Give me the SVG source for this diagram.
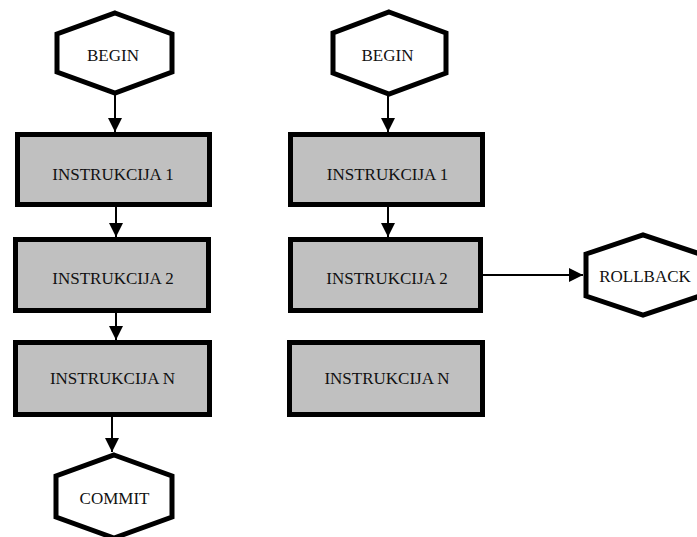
<svg xmlns="http://www.w3.org/2000/svg" width="697" height="537" viewBox="0 0 697 537">
<style>
.hex{fill:#fff;stroke:#000;stroke-width:5;stroke-linejoin:miter}
.box{fill:#c0c0c0;stroke:#000;stroke-width:5}
.lbl{font-family:"Liberation Serif","Times New Roman",serif;font-size:17px;fill:#111;text-anchor:middle}
.edge{stroke:#000;stroke-width:2;fill:none}
</style>
<defs>
<marker id="arr" viewBox="0 0 14 14" refX="14" refY="7" markerWidth="14" markerHeight="14" markerUnits="userSpaceOnUse" orient="auto">
<path d="M0,0 L14,7 L0,14 Z" fill="#000"/>
</marker>
</defs>
<rect width="697" height="537" fill="#fff"/>
<g id="connectors">
<line class="edge" x1="115" y1="95" x2="115" y2="132" marker-end="url(#arr)"/>
<line class="edge" x1="116" y1="207" x2="116" y2="237" marker-end="url(#arr)"/>
<line class="edge" x1="116" y1="313" x2="116" y2="340" marker-end="url(#arr)"/>
<line class="edge" x1="112" y1="417" x2="112" y2="452" marker-end="url(#arr)"/>
<line class="edge" x1="388" y1="96" x2="388" y2="132" marker-end="url(#arr)"/>
<line class="edge" x1="388" y1="207" x2="388" y2="237" marker-end="url(#arr)"/>
<line class="edge" x1="483" y1="275" x2="583" y2="275" marker-end="url(#arr)"/>
</g>
<g id="begin-left">
<polygon class="hex" points="115,13 172,34 172,72 115,93 57,72 57,34"/>
<text class="lbl" x="113" y="60.5">BEGIN</text>
</g>
<g id="ins1-left">
<rect class="box" x="17.5" y="134.5" width="192" height="70"/>
<text class="lbl" x="113" y="180">INSTRUKCIJA 1</text>
</g>
<g id="ins2-left">
<rect class="box" x="15.5" y="239.5" width="193" height="71"/>
<text class="lbl" x="113" y="284">INSTRUKCIJA 2</text>
</g>
<g id="insn-left">
<rect class="box" x="15.5" y="342.5" width="194" height="72"/>
<text class="lbl" x="112.5" y="384">INSTRUKCIJA N</text>
</g>
<g id="commit">
<polygon class="hex" points="114,455 172,476 172,517 114,538 56,517 56,476"/>
<text class="lbl" x="114.5" y="504">COMMIT</text>
</g>
<g id="begin-right">
<polygon class="hex" points="389,12 446,33 446,73 389,94 333,73 333,33"/>
<text class="lbl" x="387.5" y="60.5">BEGIN</text>
</g>
<g id="ins1-right">
<rect class="box" x="290.5" y="134.5" width="192" height="70"/>
<text class="lbl" x="387.5" y="180">INSTRUKCIJA 1</text>
</g>
<g id="ins2-right">
<rect class="box" x="290.5" y="239.5" width="190" height="71"/>
<text class="lbl" x="387" y="283.5">INSTRUKCIJA 2</text>
</g>
<g id="insn-right">
<rect class="box" x="289.5" y="342.5" width="193" height="72"/>
<text class="lbl" x="387" y="383.5">INSTRUKCIJA N</text>
</g>
<g id="rollback">
<polygon class="hex" points="586,254 643,235 700,254 700,296 643,315 586,296"/>
<text class="lbl" x="645" y="282">ROLLBACK</text>
</g>
</svg>
